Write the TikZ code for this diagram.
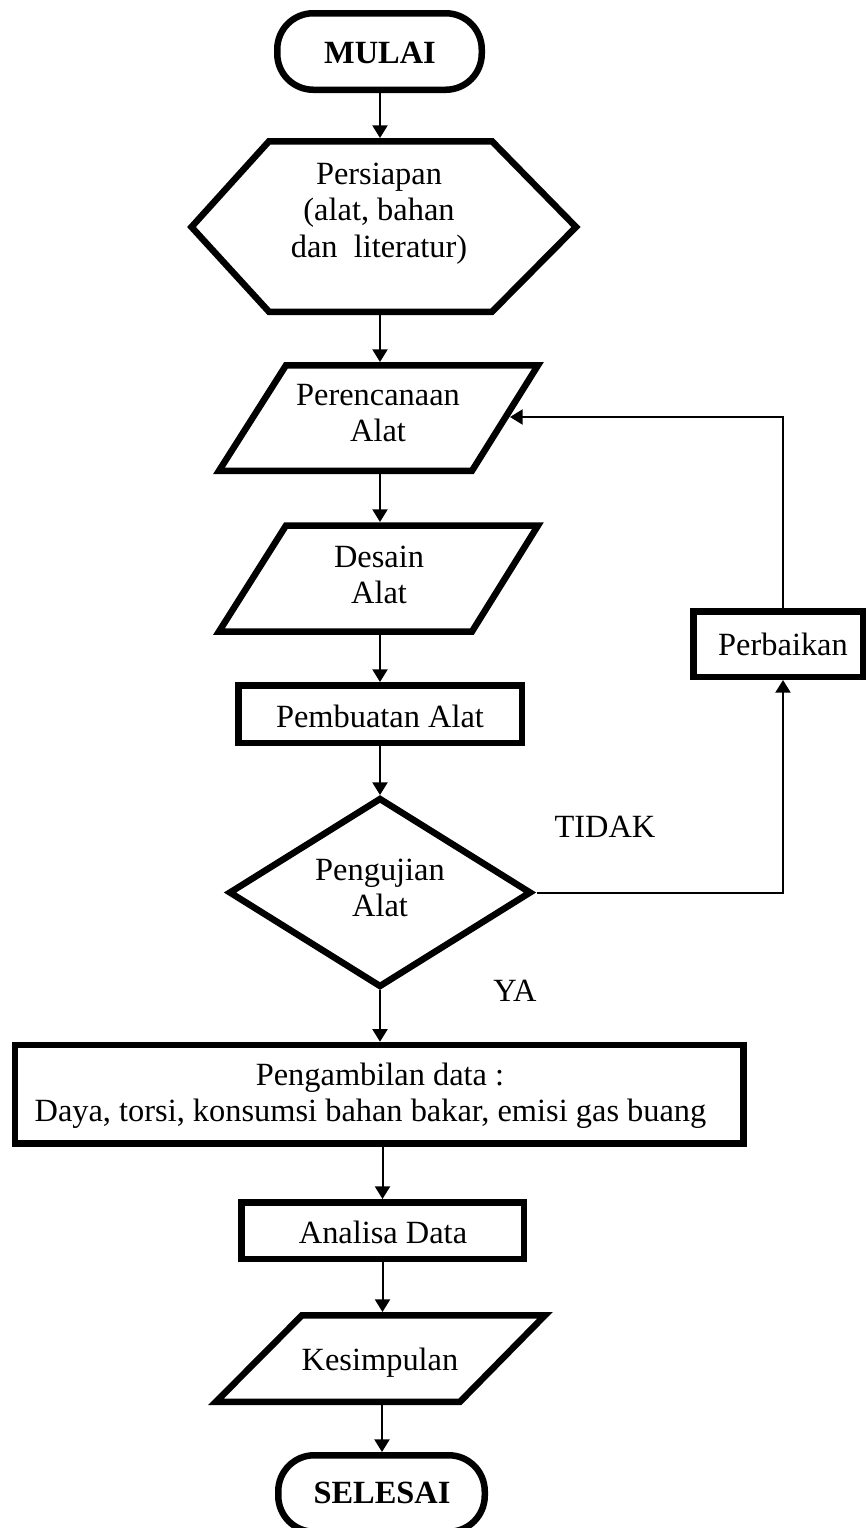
\documentclass[tikz,border=0pt]{standalone}
\usepackage{fontspec}
\setmainfont{Liberation Serif}
\usetikzlibrary{arrows.meta,calc}
\newcommand{\twoline}[2]{\begin{tabular}[t]{@{}c@{}}#1\\#2\end{tabular}}
\newcommand{\threeline}[3]{\begin{tabular}[t]{@{}c@{}}#1\\#2\\#3\end{tabular}}
\begin{document}
\begin{tikzpicture}[x=0.5pt,y=-0.5pt,
  frame/.style 2 args={inner sep=0pt,outer sep=0pt,minimum width=#1*0.5pt,minimum height=#2*0.5pt},
  outline/.style={line width=3.25pt,line join=miter},
  conn/.style={line width=1pt},
  arr/.style={conn,-{Triangle[width=7.5pt,length=6.3pt]}},
  txt/.style={inner sep=0pt,outer sep=0pt,anchor=base,font=\fontsize{16.2}{18.35}\selectfont}
]
\useasboundingbox (0,0) rectangle (866,1528);

% outlines
\draw[outline,rounded corners=18pt] (277.25,13.25) rectangle (481.75,89.75);
\draw[outline] (191.5,227) -- (269,141.25) -- (492,141.25) -- (576,227) -- (492,311.75) -- (269,311.75) -- cycle;
\draw[outline] (286,365.25) -- (538,365.25) -- (472,470.75) -- (219,470.75) -- cycle;
\draw[outline] (286,525.5) -- (538,525.5) -- (472,631.5) -- (219,631.5) -- cycle;
\draw[outline] (238.25,685.25) rectangle (521.75,742.75);
\draw[outline] (380,799) -- (530,892.5) -- (380,986) -- (230,892.5) -- cycle;
\draw[outline] (693.25,611.25) rectangle (862.75,676.75);
\draw[outline] (15,1045) rectangle (743.5,1143.5);
\draw[outline] (241.25,1202.25) rectangle (523.75,1258.75);
\draw[outline] (302,1315.25) -- (545,1315.25) -- (460,1401.75) -- (216,1401.75) -- cycle;
\draw[outline,rounded corners=18pt] (278.25,1455.25) rectangle (484.75,1531.75);

% frames for connectors (outer bounding boxes)
\node[frame={211}{83}] (mulai) at (380,51.5) {};
\node[frame={394}{177}] (hex) at (380,226.5) {};
\node[frame={331}{112}] (per) at (380,418) {};
\node[frame={331}{113}] (des) at (380,578.5) {};
\node[frame={290}{64}] (pemb) at (380,714) {};
\node[frame={313}{195}] (dia) at (380,892.5) {};
\node[frame={176}{72}] (perb) at (778,644) {};
\node[frame={735}{105}] (peng) at (379.25,1094.25) {};
\node[frame={289}{63}] (anal) at (382.5,1230.5) {};
\node[frame={343}{93}] (kes) at (382,1358.5) {};
\node[frame={213}{83}] (sel) at (382,1493.5) {};
\coordinate (fb) at (783,417);
\coordinate (perin) at (510,417);

% connectors
\draw[arr] (mulai.south) -- (mulai.south |- hex.north);
\draw[arr] (hex.south) -- (hex.south |- per.north);
\draw[arr] (per.south) -- (per.south |- des.north);
\draw[arr] (des.south) -- (des.south |- pemb.north);
\draw[arr] (pemb.south) -- (pemb.south |- dia.north);
\draw[arr] (dia.south) -- (dia.south |- peng.north);
\draw[arr] (anal.north |- peng.south) -- (anal.north);
\draw[arr] (anal.south) -- (anal.south |- kes.north);
\draw[arr] (kes.south) -- (kes.south |- sel.north);
\draw[arr] (dia.east) -| (perb.south -| fb);
\draw[arr] (perb.north -| fb) |- (perin);

% texts
\node[txt] (t-mulai) at (380,63) {\textbf{MULAI}};
\node[txt] (t-hex) at (379,184) {\threeline{Persiapan}{(alat, bahan}{dan~~literatur)}};
\node[txt] (t-per) at (378,405) {\twoline{Perencanaan}{Alat}};
\node[txt] (t-des) at (379,567) {\twoline{Desain}{Alat}};
\node[txt] (t-pemb) at (380,727) {Pembuatan Alat};
\node[txt] (t-dia) at (380,880) {\twoline{Pengujian}{Alat}};
\node[txt] (t-tidak) at (605,837) {TIDAK};
\node[txt] (t-ya) at (515,1001) {YA};
\node[txt] (t-perb) at (783,655) {Perbaikan};
\node[txt] (t-peng) at (380,1085) {\twoline{Pengambilan data :}{Daya, torsi, konsumsi bahan bakar, emisi gas buang\hspace*{9.5pt}}};
\node[txt] (t-anal) at (383,1243) {Analisa Data};
\node[txt] (t-kes) at (380,1370) {Kesimpulan};
\node[txt] (t-sel) at (382,1503) {\textbf{SELESAI}};
\end{tikzpicture}
\end{document}
